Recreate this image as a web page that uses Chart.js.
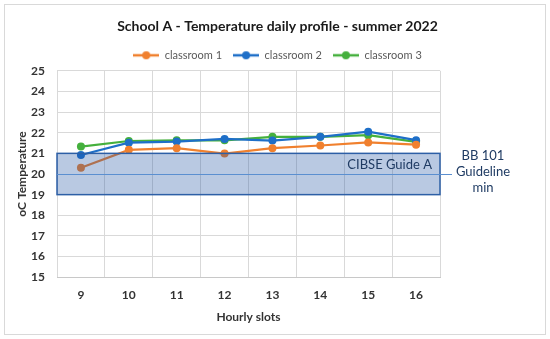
<!DOCTYPE html>
<html>
<head>
<meta charset="utf-8">
<script src="https://cdn.jsdelivr.net/npm/chart.js@4/dist/chart.umd.min.js"></script>
<style>
  html, body { margin: 0; padding: 0; background: #fff; }
  #wrap { width: 550px; height: 339px; position: relative; }
</style>
</head>
<body>
<div id="wrap"><canvas id="chart"></canvas></div>
<script>
// data
const hours = ["9", "10", "11", "12", "13", "14", "15", "16"];
const classroom1 = [20.3, 21.17, 21.25, 20.99, 21.25, 21.38, 21.53, 21.42];
const classroom2 = [20.92, 21.52, 21.57, 21.7, 21.62, 21.8, 22.05, 21.64];
const classroom3 = [21.33, 21.6, 21.63, 21.63, 21.8, 21.8, 21.88, 21.56];

const yTicksMin = 15;
const yTicksMax = 25;

// guideline band (CIBSE Guide A) and BB 101 min line
const cibseLow = 19;
const cibseHigh = 21;
const bb101Min = 20;

const FONT = "Lato, 'Open Sans', sans-serif";
const COLORS = ["#F0802E", "#1E6FC8", "#45B03D"];

// little line+dot swatch for the legend, like Excel
const swatch = (color) => {
  const c = document.createElement("canvas");
  c.width = 26; c.height = 10;
  const g = c.getContext("2d");
  g.strokeStyle = color; g.lineWidth = 2.5;
  g.beginPath(); g.moveTo(0, 5); g.lineTo(26, 5); g.stroke();
  g.fillStyle = color;
  g.beginPath(); g.arc(13, 5, 4, 0, Math.PI * 2); g.fill();
  return c;
};

const framePlugin = {
  id: "frame",
  beforeDraw(chart) {
    const { ctx } = chart;
    ctx.save();
    ctx.fillStyle = "#fff";
    ctx.fillRect(0, 0, chart.width, chart.height);
    ctx.strokeStyle = "#d9d9d9";
    ctx.lineWidth = 1;
    ctx.strokeRect(4.5, 4.5, chart.width - 9, chart.height - 9);
    ctx.restore();
  },
};

const bandPlugin = {
  id: "guideBand",
  afterDatasetsDraw(chart) {
    const { ctx, chartArea, scales: { y } } = chart;
    const top = y.getPixelForValue(cibseHigh);
    const bot = y.getPixelForValue(cibseLow);
    const mid = y.getPixelForValue(bb101Min);
    ctx.save();
    ctx.fillStyle = "rgba(30,80,160,0.31)";
    ctx.fillRect(chartArea.left, top, chartArea.right - chartArea.left, bot - top);
    ctx.strokeStyle = "#2D5FA6";
    ctx.lineWidth = 1.5;
    ctx.strokeRect(chartArea.left, top, chartArea.right - chartArea.left, bot - top);

    // BB 101 line, runs out to the label
    ctx.strokeStyle = "#5B8FD0";
    ctx.lineWidth = 1;
    ctx.beginPath();
    ctx.moveTo(chartArea.left, Math.round(mid) + 0.5);
    ctx.lineTo(chartArea.right + 12, Math.round(mid) + 0.5);
    ctx.stroke();

    ctx.fillStyle = "#1F3B63";
    ctx.font = "13px " + FONT;
    ctx.textBaseline = "middle";
    ctx.textAlign = "right";
    ctx.fillText("CIBSE Guide A", chartArea.right - 8, y.getPixelForValue((cibseHigh + bb101Min) / 2) + 1);

    ctx.textAlign = "center";
    const tx = chartArea.right + 43;
    ctx.fillText("BB 101", tx, mid - 18);
    ctx.fillText("Guideline", tx, mid - 2);
    ctx.fillText("min", tx, mid + 14);
    ctx.restore();
  },
};

const mkSet = (label, data, color) => ({
  label,
  data,
  borderColor: color,
  backgroundColor: color,
  borderWidth: 2.2,
  pointRadius: 4,
  pointHoverRadius: 4,
  pointBorderWidth: 0,
  tension: 0,
});

new Chart(document.getElementById("chart"), {
  type: "line",
  data: {
    labels: hours,
    datasets: [
      mkSet("classroom 1", classroom1, COLORS[0]),
      mkSet("classroom 2", classroom2, COLORS[1]),
      mkSet("classroom 3", classroom3, COLORS[2]),
    ],
  },
  options: {
    responsive: true,
    maintainAspectRatio: false,
    animation: false,
    layout: { padding: { left: 15, right: 10, top: 4, bottom: 15 } },
    plugins: {
      title: {
        display: true,
        text: "School A - Temperature daily profile - summer 2022",
        color: "#1a1a1a",
        font: { family: FONT, size: 14, weight: "bold" },
        padding: { top: 14, bottom: 4 },
      },
      legend: {
        position: "top",
        labels: {
          color: "#595959",
          font: { family: FONT, size: 11 },
          usePointStyle: true,
          pointStyleWidth: 26,
          boxHeight: 10,
          padding: 11,
          generateLabels: (chart) =>
            chart.data.datasets.map((ds, i) => ({
              text: ds.label,
              pointStyle: swatch(ds.borderColor),
              fillStyle: ds.borderColor,
              strokeStyle: ds.borderColor,
              fontColor: "#595959",
              lineWidth: 0,
              hidden: false,
              datasetIndex: i,
            })),
        },
      },
      tooltip: { enabled: false },
    },
    scales: {
      x: {
        offset: true,
        grid: { offset: true, color: "#d9d9d9", drawTicks: false },
        border: { color: "#c8c8c8" },
        ticks: { color: "#333", font: { family: FONT, size: 12, weight: "bold" }, padding: 11 },
        title: {
          display: true,
          text: "Hourly slots",
          color: "#333",
          font: { family: FONT, size: 12, weight: "bold" },
          padding: { top: -4, bottom: 0 },
        },
      },
      y: {
        min: yTicksMin,
        max: yTicksMax,
        ticks: { stepSize: 1, color: "#333", font: { family: FONT, size: 12, weight: "bold" }, padding: 12 },
        grid: { color: "#d9d9d9", drawTicks: false },
        border: { display: false },
        title: {
          display: true,
          text: "oC Temperature",
          color: "#333",
          font: { family: FONT, size: 12, weight: "bold" },
          padding: { top: 0, bottom: 0 },
        },
        afterFit(scale) { scale.width = 42; },
      },
      // empty right-hand axis that keeps room for the BB 101 note
      side: {
        position: "right",
        display: true,
        ticks: { display: false },
        grid: { display: false },
        border: { display: false },
        afterFit(scale) { scale.width = 100; },
      },
    },
  },
  plugins: [framePlugin, bandPlugin],
});
</script>
</body>
</html>
